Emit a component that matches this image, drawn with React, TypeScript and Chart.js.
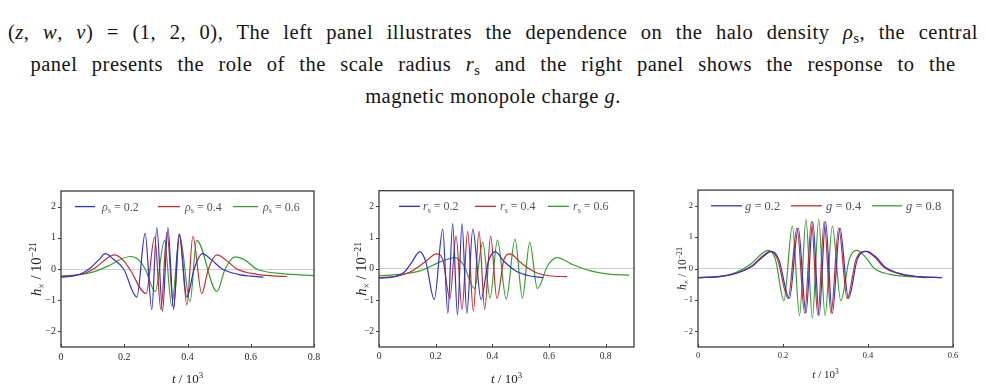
import React, { useEffect, useLayoutEffect, useRef } from 'react';
import { Chart, registerables } from 'chart.js';

Chart.register(...registerables);

type Pt = [number, number];

// ---- left panel: halo density rho_s ----
const rhoValues = ['0.2', '0.4', '0.6'];
const rho02: Pt[] = [
  [0, -0.26], [0.04, -0.22], [0.07, -0.12], [0.095, 0.05], [0.12, 0.3], [0.14, 0.49], [0.165, 0.32],
  [0.198, 0], [0.24, -0.9], [0.266, 1.14], [0.287, -1.3], [0.303, 1.33], [0.321, -1.35], [0.338, 1.33],
  [0.356, -1.3], [0.373, 1.13], [0.398, -0.9], [0.421, 0], [0.447, 0.49], [0.475, 0.3], [0.51, 0],
  [0.56, -0.17], [0.6, -0.23], [0.64, -0.26],
];
const rho04: Pt[] = [
  [0, -0.24], [0.04, -0.21], [0.08, -0.12], [0.11, 0.05], [0.14, 0.3], [0.168, 0.45], [0.195, 0.3],
  [0.217, 0], [0.269, -0.79], [0.296, 1.02], [0.316, -1.3], [0.335, 1.18], [0.356, -1.22], [0.375, 1.12],
  [0.398, -1.15], [0.417, 1.05], [0.445, -0.79], [0.466, 0], [0.493, 0.45], [0.52, 0.3], [0.556, 0],
  [0.62, -0.17], [0.67, -0.22], [0.714, -0.24],
];
const rho06: Pt[] = [
  [0, -0.22], [0.05, -0.19], [0.1, -0.1], [0.15, 0.1], [0.19, 0.32], [0.219, 0.4], [0.245, 0.3],
  [0.266, 0], [0.298, -0.72], [0.327, 0.92], [0.35, -1.18], [0.375, 1.08], [0.408, -1.05], [0.429, 0.92],
  [0.493, -0.72], [0.519, 0], [0.551, 0.39], [0.58, 0.3], [0.619, 0], [0.7, -0.15], [0.8, -0.21],
];

// ---- central panel: scale radius r_s ----
const rsValues = ['0.2', '0.4', '0.6'];
const rs02: Pt[] = [
  [0, -0.3], [0.05, -0.26], [0.09, -0.1], [0.115, 0.2], [0.144, 0.55], [0.166, 0.2], [0.195, -0.98],
  [0.225, 1.27], [0.243, -1.42], [0.26, 1.45], [0.277, -1.48], [0.293, 1.45], [0.31, -1.42],
  [0.331, 1.27], [0.36, -0.98], [0.385, 0.2], [0.41, 0.55], [0.44, 0.25], [0.48, -0.05],
  [0.53, -0.22], [0.58, -0.28],
];
const rs04: Pt[] = [
  [0, -0.28], [0.06, -0.24], [0.11, -0.1], [0.16, 0.2], [0.203, 0.48], [0.225, 0.3], [0.25, -0.95],
  [0.272, 1.05], [0.293, -1.3], [0.313, 1.2], [0.333, -1.35], [0.353, 1.2], [0.373, -1.3], [0.394, 1.05],
  [0.416, -0.95], [0.441, 0.3], [0.463, 0.48], [0.5, 0.2], [0.55, -0.1], [0.6, -0.22], [0.664, -0.25],
];
const rs06: Pt[] = [
  [0, -0.22], [0.08, -0.17], [0.15, -0.05], [0.21, 0.2], [0.268, 0.36], [0.3, 0.1], [0.337, -0.63],
  [0.366, 0.85], [0.392, -0.93], [0.418, 0.92], [0.449, -0.97], [0.48, 0.95], [0.506, -0.93],
  [0.532, 0.85], [0.559, -0.63], [0.595, 0.1], [0.629, 0.36], [0.68, 0.15], [0.74, -0.05],
  [0.81, -0.17], [0.883, -0.2],
];

// ---- right panel: monopole charge g ----
const gValues = ['0.2', '0.4', '0.8'];
const g02: Pt[] = [
  [0, -0.29], [0.05, -0.26], [0.09, -0.15], [0.13, 0.1], [0.155, 0.4], [0.173, 0.55], [0.19, 0.3],
  [0.215, -0.95], [0.236, 1.29], [0.254, -1.42], [0.27, 1.5], [0.285, -1.5], [0.3, 1.5], [0.316, -1.43],
  [0.334, 1.29], [0.354, -0.95], [0.375, 0.3], [0.397, 0.55], [0.42, 0.35], [0.44, 0.05],
  [0.48, -0.18], [0.52, -0.26], [0.574, -0.29],
];
const g04: Pt[] = [
  [0, -0.29], [0.05, -0.26], [0.09, -0.15], [0.128, 0.1], [0.152, 0.4], [0.17, 0.55], [0.187, 0.3],
  [0.212, -0.95], [0.233, 1.29], [0.251, -1.42], [0.267, 1.5], [0.282, -1.5], [0.297, 1.5], [0.313, -1.43],
  [0.331, 1.29], [0.351, -0.95], [0.372, 0.3], [0.394, 0.55], [0.417, 0.35], [0.437, 0.05],
  [0.477, -0.18], [0.517, -0.26], [0.57, -0.29],
];
const g08: Pt[] = [
  [0, -0.29], [0.05, -0.25], [0.09, -0.12], [0.125, 0.15], [0.148, 0.45], [0.165, 0.58], [0.182, 0.3],
  [0.202, -1.02], [0.222, 1.35], [0.239, -1.5], [0.254, 1.57], [0.269, -1.58], [0.284, 1.57],
  [0.299, -1.5], [0.316, 1.35], [0.336, -1.02], [0.356, 0.3], [0.373, 0.58], [0.395, 0.35],
  [0.415, 0], [0.45, -0.18], [0.5, -0.26], [0.539, -0.29],
];

const yTicks = [-2, -1, 0, 1, 2];
const xTicksWide = [0, 0.2, 0.4, 0.6, 0.8];
const xTicksNarrow = [0, 0.2, 0.4, 0.6];

const BLUE = '#3232c4';
const RED = '#c62e2e';
const GREEN = '#34a034';
const SERIF = '"Liberation Serif", "DejaVu Serif", serif';

type Run = { t: string; i?: boolean; s?: 'sub' | 'sup' };

function runFont(r: Run, size: number) {
  const sz = r.s ? size * 0.68 : size;
  return `${r.i ? 'italic ' : ''}${sz}px ${SERIF}`;
}
function measureRuns(ctx: CanvasRenderingContext2D, runs: Run[], size: number) {
  let w = 0;
  for (const r of runs) {
    ctx.font = runFont(r, size);
    w += ctx.measureText(r.t).width;
  }
  return w;
}
function drawRuns(ctx: CanvasRenderingContext2D, runs: Run[], x: number, y: number, size: number, color: string) {
  let cx = x;
  ctx.fillStyle = color;
  ctx.textAlign = 'left';
  ctx.textBaseline = 'alphabetic';
  for (const r of runs) {
    ctx.font = runFont(r, size);
    const dy = r.s === 'sub' ? size * 0.22 : r.s === 'sup' ? -size * 0.4 : 0;
    ctx.fillText(r.t, cx, y + dy);
    cx += ctx.measureText(r.t).width;
  }
}

type PanelCfg = {
  left: number;
  width: number;
  plotLeft: number;
  plotRight: number;
  xMax: number;
  xTicks: number[];
  symbol: Run[];
  values: string[];
  series: Pt[][];
  legendX: [number, number, number][];
  tickFont: number;
  titleFont: number;
  yTitleFont: number;
  legendFont: number;
  yTitleX: number;
};

const CANVAS_TOP = 180;
const CANVAS_H = 211;
const PLOT_TOP = 189;
const PLOT_BOTTOM = 347;

const panels: PanelCfg[] = [
  {
    left: 0, width: 340, plotLeft: 61, plotRight: 314, xMax: 0.8, xTicks: xTicksWide,
    symbol: [{ t: 'ρ', i: true }, { t: 's', s: 'sub' }], values: rhoValues, series: [rho02, rho04, rho06],
    legendX: [[75, 95, 102], [158, 180, 185], [233, 258, 263]],
    tickFont: 10, titleFont: 13, yTitleFont: 14.5, legendFont: 12, yTitleX: 37,
  },
  {
    left: 340, width: 320, plotLeft: 379, plotRight: 634, xMax: 0.9, xTicks: xTicksWide,
    symbol: [{ t: 'r', i: true }, { t: 's', s: 'sub' }], values: rsValues, series: [rs02, rs04, rs06],
    legendX: [[399, 420, 423], [475, 496, 500], [548, 569, 573]],
    tickFont: 9.5, titleFont: 13, yTitleFont: 14.5, legendFont: 12, yTitleX: 362,
  },
  {
    left: 660, width: 326, plotLeft: 698, plotRight: 953, xMax: 0.6, xTicks: xTicksNarrow,
    symbol: [{ t: 'g', i: true }], values: gValues, series: [g02, g04, g08],
    legendX: [[711, 742, 745], [791, 822, 826], [872, 902, 906]],
    tickFont: 8.5, titleFont: 11, yTitleFont: 11.5, legendFont: 12.5, yTitleX: 683,
  },
];

const COLORS = [BLUE, RED, GREEN];

function Panel({ cfg }: { cfg: PanelCfg }) {
  const ref = useRef<HTMLCanvasElement | null>(null);

  useEffect(() => {
    const canvas = ref.current;
    if (!canvas) return;
    const yAxisW = cfg.plotLeft - cfg.left;
    const padRight = cfg.left + cfg.width - cfg.plotRight;
    const padTop = PLOT_TOP - CANVAS_TOP;
    const xAxisH = CANVAS_TOP + CANVAS_H - PLOT_BOTTOM;
    const tickFont = { family: SERIF, size: cfg.tickFont };

    const decor = {
      id: 'frameDecor',
      afterDraw(chart: any) {
        const ctx: CanvasRenderingContext2D = chart.ctx;
        const a = chart.chartArea;
        const xs = chart.scales.x;
        const ys = chart.scales.y;
        ctx.save();
        // frame
        ctx.strokeStyle = '#3c3c3c';
        ctx.lineWidth = 1.3;
        ctx.strokeRect(a.left, a.top, a.right - a.left, a.bottom - a.top);
        // tick marks: inward on the bottom edge, outward on the left edge
        ctx.lineWidth = 1;
        ctx.beginPath();
        for (const v of cfg.xTicks) {
          const px = Math.round(xs.getPixelForValue(v)) + 0.5;
          ctx.moveTo(px, a.bottom);
          ctx.lineTo(px, a.bottom - 3);
        }
        for (const v of yTicks) {
          const py = Math.round(ys.getPixelForValue(v)) + 0.5;
          ctx.moveTo(a.left, py);
          ctx.lineTo(a.left - 3, py);
        }
        ctx.stroke();

        // legend
        const ly = ys.getPixelForValue(2);
        cfg.values.forEach((val, k) => {
          const [x0, x1, tx] = cfg.legendX[k];
          ctx.strokeStyle = COLORS[k];
          ctx.lineWidth = 1.3;
          ctx.beginPath();
          ctx.moveTo(x0 - cfg.left, ly);
          ctx.lineTo(x1 - cfg.left, ly);
          ctx.stroke();
          drawRuns(ctx, [...cfg.symbol, { t: ` = ${val}` }], tx - cfg.left, ly + cfg.legendFont * 0.33, cfg.legendFont, '#555555');
        });

        // axis titles
        const xt: Run[] = [{ t: 't', i: true }, { t: ' / 10' }, { t: '3', s: 'sup' }];
        const xw = measureRuns(ctx, xt, cfg.titleFont);
        const xc = (a.left + a.right) / 2;
        drawRuns(ctx, xt, xc - xw / 2, a.bottom + 32 * (cfg.titleFont / 13) + 4, cfg.titleFont, '#222222');

        const yt: Run[] = [{ t: 'h', i: true }, { t: '×', s: 'sub' }, { t: ' / 10' }, { t: '−21', s: 'sup' }];
        const yw = measureRuns(ctx, yt, cfg.yTitleFont);
        ctx.translate(cfg.yTitleX - cfg.left + cfg.yTitleFont * 0.3, (a.top + a.bottom) / 2);
        ctx.rotate(-Math.PI / 2);
        drawRuns(ctx, yt, -yw / 2, 0, cfg.yTitleFont, '#222222');
        ctx.restore();
      },
    };

    const chart = new Chart(canvas, {
      type: 'line',
      data: {
        datasets: cfg.series.map((pts, k) => ({
          label: cfg.values[k],
          data: pts.map(([x, y]) => ({ x, y })),
          borderColor: COLORS[k],
          borderWidth: 1.2,
          pointRadius: 0,
          fill: false,
          cubicInterpolationMode: 'monotone' as const,
        })),
      },
      options: {
        animation: false,
        responsive: false,
        maintainAspectRatio: false,
        events: [],
        layout: { padding: { top: padTop, right: padRight, left: 0, bottom: 0 } },
        plugins: { legend: { display: false }, tooltip: { enabled: false } },
        scales: {
          x: {
            type: 'linear',
            min: 0,
            max: cfg.xMax,
            afterBuildTicks: (s: any) => { s.ticks = cfg.xTicks.map((v) => ({ value: v })); },
            afterFit: (s: any) => { s.height = xAxisH; },
            grid: { display: false, drawTicks: false },
            border: { display: false },
            ticks: {
              font: tickFont,
              color: '#2a2a2a',
              padding: 4,
              maxRotation: 0,
              autoSkip: false,
              callback: (v: any) => (Number(v) === 0 ? '0' : Number(v).toFixed(1)),
            },
          },
          y: {
            type: 'linear',
            min: -2.5,
            max: 2.5,
            afterBuildTicks: (s: any) => { s.ticks = yTicks.map((v) => ({ value: v })); },
            afterFit: (s: any) => { s.width = yAxisW; },
            grid: {
              drawTicks: false,
              lineWidth: 1,
              color: (c: any) => (c.tick && c.tick.value === 0 ? '#cfcfcf' : 'rgba(0,0,0,0)'),
            },
            border: { display: false },
            ticks: {
              font: tickFont,
              color: '#2a2a2a',
              padding: 5,
              callback: (v: any) => (Number(v) < 0 ? `−${Math.abs(Number(v))}` : String(v)),
            },
          },
        },
      },
      plugins: [decor],
    });
    return () => chart.destroy();
  }, [cfg]);

  return (
    <canvas
      ref={ref}
      width={cfg.width}
      height={CANVAS_H}
      style={{ position: 'absolute', left: cfg.left, top: CANVAS_TOP, width: cfg.width, height: CANVAS_H }}
    />
  );
}

// caption lines: the first two are spread to a set width, the last keeps its natural spacing
const captionWidths = [970, 925, 0];
const captionBaselines = [39, 71, 103];
const CAPTION_SIZE = 20.5;
const CAPTION_TRACKING = 0.5;

function CaptionLine({ idx, children }: { idx: number; children: React.ReactNode }) {
  const ref = useRef<HTMLSpanElement | null>(null);
  useLayoutEffect(() => {
    const el = ref.current;
    if (!el || !captionWidths[idx]) return;
    el.style.wordSpacing = '0px';
    const natural = el.getBoundingClientRect().width;
    const spaces = (el.textContent || '').split(' ').length - 1;
    if (spaces > 0) el.style.wordSpacing = `${(captionWidths[idx] - natural) / spaces}px`;
  }, [idx]);
  return (
    <div
      style={{
        position: 'absolute',
        left: 0,
        width: 986,
        top: captionBaselines[idx] - CAPTION_SIZE * 0.84,
        height: CAPTION_SIZE,
        lineHeight: `${CAPTION_SIZE}px`,
        fontSize: CAPTION_SIZE,
        textAlign: 'center',
        whiteSpace: 'nowrap',
      }}
    >
      <span ref={ref} style={{ display: 'inline-block', letterSpacing: `${CAPTION_TRACKING}px` }}>
        {children}
      </span>
    </div>
  );
}

const sub: React.CSSProperties = { fontSize: '0.7em', position: 'relative', top: '0.28em', fontStyle: 'normal' };

export default function App() {
  return (
    <div
      style={{
        position: 'absolute',
        left: 0,
        top: 0,
        width: 986,
        height: 391,
        overflow: 'hidden',
        background: '#ffffff',
        color: '#141414',
        fontFamily: SERIF,
      }}
    >
      <CaptionLine idx={0}>
        (<i>z</i>, <i>w</i>, <i>v</i>) = (1, 2, 0), The left panel illustrates the dependence on the halo density{' '}
        <i>ρ</i><span style={sub}>s</span>, the central
      </CaptionLine>
      <CaptionLine idx={1}>
        panel presents the role of the scale radius <i>r</i><span style={sub}>s</span> and the right panel shows the
        response to the
      </CaptionLine>
      <CaptionLine idx={2}>
        magnetic monopole charge <i>g</i>.
      </CaptionLine>
      {panels.map((p, i) => (
        <Panel key={i} cfg={p} />
      ))}
    </div>
  );
}
